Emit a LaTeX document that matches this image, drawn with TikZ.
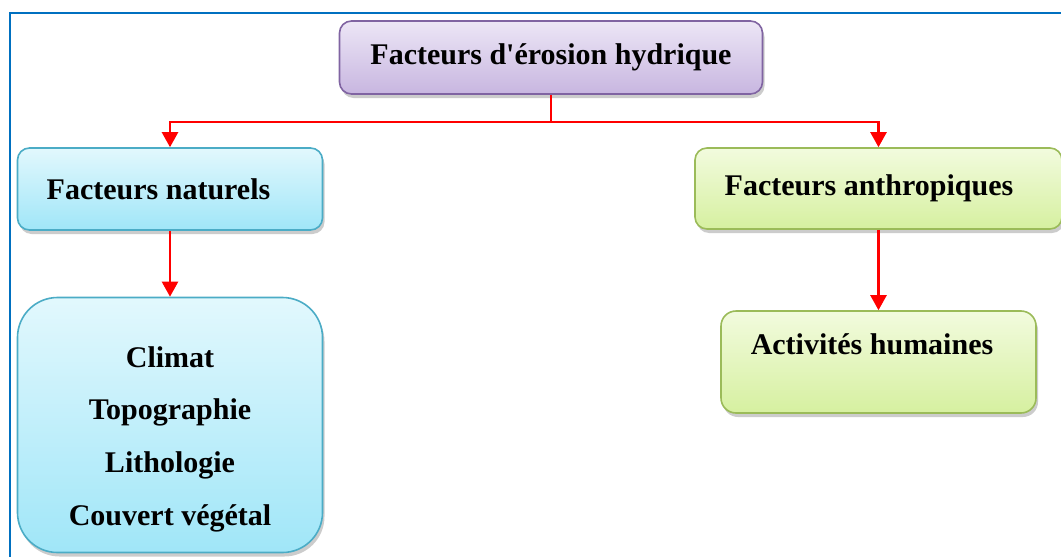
\documentclass[tikz,border=0pt]{standalone}
\usepackage{fontspec}
\setmainfont{Liberation Serif}
\usetikzlibrary{arrows.meta,shadows,calc}
\definecolor{framblue}{RGB}{0,112,192}
\definecolor{purpborder}{RGB}{128,100,162}
\definecolor{purptop}{RGB}{236,230,246}
\definecolor{purpbot}{RGB}{200,182,224}
\definecolor{cyanborder}{RGB}{75,172,198}
\definecolor{cyantop}{RGB}{226,248,253}
\definecolor{cyanbot}{RGB}{160,230,248}
\definecolor{greenborder}{RGB}{155,187,89}
\definecolor{greentop}{RGB}{242,251,222}
\definecolor{greenbot}{RGB}{214,240,160}

\tikzset{
  box/.style={rounded corners=12pt, line width=1.6pt, inner sep=0pt,
    font=\fontsize{30}{36}\selectfont\bfseries,
    drop shadow={opacity=0.4, shadow xshift=2pt, shadow yshift=-4pt}},
  purplebox/.style={box, draw=purpborder, top color=purptop, bottom color=purpbot},
  cyanbox/.style={box, draw=cyanborder, top color=cyantop, bottom color=cyanbot},
  greenbox/.style={box, draw=greenborder, top color=greentop, bottom color=greenbot},
  link/.style={red, line width=2.4pt, -{Triangle[width=16pt,length=15pt]}}
}

\begin{document}
\begin{tikzpicture}[x=1pt, y=-1pt]

% Canvas and frame
\useasboundingbox (0,0) rectangle (1061,557);
\fill[white] (0,0) rectangle (1061,557);
\begin{scope}
\clip (0,0) rectangle (1061,557);
\draw[framblue, line width=2pt] (10,13) rectangle (1075,575);
\end{scope}

% Main node
\node[purplebox, minimum width=423pt, minimum height=73pt] (erosion) at (551,57.5)
  {Facteurs d\textquotesingle érosion hydrique};

% Second level
\node[cyanbox, minimum width=305pt, minimum height=82pt] (naturels) at (170,189)
  {Facteurs naturels\hspace*{23pt}};
\node[greenbox, minimum width=367pt, minimum height=81pt] (anthropiques) at (878.5,188.5)
  {Facteurs anthropiques\hspace*{19pt}};

% Third level
\node[cyanbox, rounded corners=40pt, minimum width=305pt, minimum height=255pt,
  align=center, font=\fontsize{30}{52.7}\selectfont\bfseries] (listenat) at (170,425)
  {\rule{0pt}{49pt}Climat\\Topographie\\Lithologie\\Couvert végétal};
\node[greenbox, rounded corners=15pt, minimum width=315pt, minimum height=102pt,
  text height=22pt, text depth=38pt] (activites) at (878.5,362)
  {Activités humaines\hspace*{13pt}};

% Connectors
\coordinate (split) at ($(erosion.south)+(0,27)$);
\draw[red, line width=2.4pt] (erosion.south) -- (split);
\draw[link] (split) -| (naturels.north);
\draw[link] (split) -| (anthropiques.north);
\draw[link] (naturels.south) -- (listenat.north);
\draw[link] (anthropiques.south) -- (activites.north);

\end{tikzpicture}
\end{document}
